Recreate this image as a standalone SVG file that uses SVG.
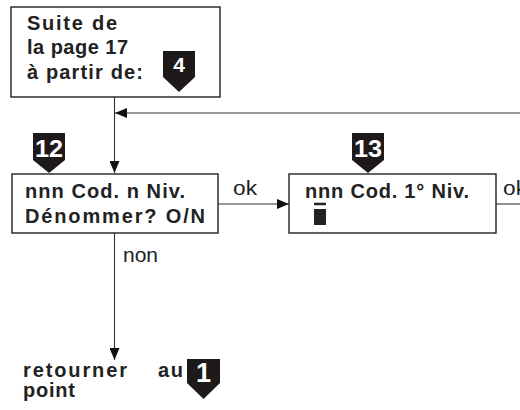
<svg xmlns="http://www.w3.org/2000/svg" width="520" height="410" viewBox="0 0 520 410">
<defs>
<style>
.box{fill:#fff;stroke:#222;stroke-width:1.4}
.ln{fill:none;stroke:#333;stroke-width:1.1}
.t{font-family:"Liberation Sans",Arial,sans-serif;font-weight:bold;font-size:20px;fill:#222}
.lbl{font-family:"Liberation Sans",Arial,sans-serif;font-size:20px;fill:#222}
.tag{fill:#1e1a1a}
.num{font-family:"Liberation Sans",Arial,sans-serif;font-weight:bold;fill:#fff;text-anchor:middle}
</style>
<marker id="ah" markerUnits="userSpaceOnUse" markerWidth="12" markerHeight="10" refX="12" refY="5" orient="auto">
<path d="M0,0 L12,5 L0,10 z" fill="#111"/>
</marker>
</defs>
<rect width="520" height="410" fill="#fff"/>
<g id="connectors">
<line class="ln" x1="114.5" y1="97" x2="114.5" y2="173" marker-end="url(#ah)"/>
<line class="ln" x1="520" y1="113" x2="115" y2="113" marker-end="url(#ah)" stroke="#555"/>
<line class="ln" x1="218" y1="204" x2="289" y2="204" marker-end="url(#ah)"/>
<line class="ln" x1="496" y1="204" x2="520" y2="204"/>
<line class="ln" x1="114.5" y1="233" x2="114.5" y2="360" marker-end="url(#ah)"/>
<text class="lbl" x="233" y="195" textLength="24" lengthAdjust="spacingAndGlyphs">ok</text>
<text class="lbl" x="503" y="195" textLength="24" lengthAdjust="spacingAndGlyphs">ok</text>
<text class="lbl" x="123" y="262" textLength="35" lengthAdjust="spacingAndGlyphs">non</text>
</g>
<g id="start">
<rect class="box" x="11" y="7" width="209" height="90"/>
<text class="t" x="27" y="30" font-size="21" textLength="90" lengthAdjust="spacing">Suite de</text>
<text class="t" x="27" y="54" font-size="21" textLength="101" lengthAdjust="spacing">la page 17</text>
<text class="t" x="27" y="79" font-size="21" textLength="116" lengthAdjust="spacing">à partir de:</text>
<path class="tag" d="M163,51 H195 V77 L179,92 L163,77 Z"/>
<text class="num" x="179" y="72" font-size="21">4</text>
</g>
<g id="step12">
<rect class="box" x="12" y="174" width="206" height="59"/>
<text class="t" x="25" y="198" textLength="160" lengthAdjust="spacing">nnn Cod. n Niv.</text>
<text class="t" x="25" y="223" textLength="180" lengthAdjust="spacing">Dénommer?  O/N</text>
<path class="tag" d="M33,133 H65 V160 L49,173 L33,160 Z"/>
<text class="num" x="49" y="157" font-size="24" textLength="28" lengthAdjust="spacingAndGlyphs">12</text>
</g>
<g id="step13">
<rect class="box" x="289" y="174" width="207" height="59"/>
<text class="t" x="305" y="198" textLength="164" lengthAdjust="spacing">nnn Cod. 1° Niv.</text>
<rect x="314" y="202.7" width="12" height="2.5" fill="#222"/>
<rect x="314" y="209" width="12" height="16" fill="#222"/>
<path class="tag" d="M352,133 H384 V160 L368,173 L352,160 Z"/>
<text class="num" x="368" y="157" font-size="24" textLength="28" lengthAdjust="spacingAndGlyphs">13</text>
</g>
<g id="return">
<text class="t" x="23" y="377" textLength="104" lengthAdjust="spacing">retourner</text>
<text class="t" x="158" y="377" textLength="25" lengthAdjust="spacing">au</text>
<text class="t" x="23" y="397" textLength="52" lengthAdjust="spacing">point</text>
<path class="tag" d="M187,359 H220 V383 L203.5,399 L187,383 Z"/>
<text class="num" x="203.5" y="382" font-size="27">1</text>
</g>
</svg>
